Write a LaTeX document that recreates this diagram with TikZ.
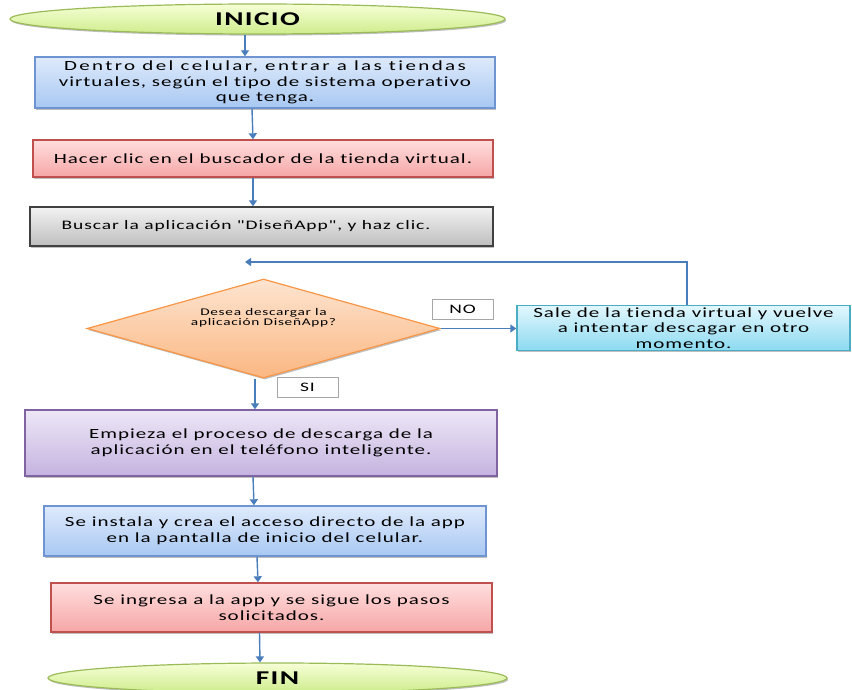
\documentclass[tikz,border=0pt]{standalone}
\usepackage{fontspec}
\setmainfont{Carlito}[FakeStretch=1.5, LetterSpace=7, Ligatures={TeXOff,CommonOff}]
\usetikzlibrary{arrows.meta,shapes.geometric,shadows}
\definecolor{flujoazul}{RGB}{74,126,187}
\definecolor{bordeAzul}{RGB}{110,149,209}
\definecolor{bordeRojo}{RGB}{192,80,77}
\definecolor{bordeGris}{RGB}{64,64,64}
\definecolor{bordeNaranja}{RGB}{247,150,70}
\definecolor{bordeCian}{RGB}{75,172,198}
\definecolor{bordeMorado}{RGB}{128,100,162}
\definecolor{bordeVerde}{RGB}{155,187,89}
\definecolor{azulArriba}{RGB}{222,234,251}   \definecolor{azulAbajo}{RGB}{168,200,242}
\definecolor{rojoArriba}{RGB}{255,222,222}   \definecolor{rojoAbajo}{RGB}{246,166,166}
\definecolor{grisArriba}{RGB}{242,242,242}   \definecolor{grisAbajo}{RGB}{190,190,190}
\definecolor{moradoArriba}{RGB}{237,231,246} \definecolor{moradoAbajo}{RGB}{197,179,224}
\definecolor{cianArriba}{RGB}{226,247,253}   \definecolor{cianAbajo}{RGB}{140,218,240}
\definecolor{naranjaArriba}{RGB}{253,228,208}\definecolor{naranjaAbajo}{RGB}{251,183,130}
\definecolor{verdeArriba}{RGB}{246,255,214}  \definecolor{verdeAbajo}{RGB}{206,236,140}
\tikzset{
  fsombra/.style={drop shadow={shadow xshift=1.2pt, shadow yshift=-1.6pt,
                               fill=black, opacity=0.25}},
  fpaso/.style={rectangle, line width=1.4pt, inner sep=2pt, align=center,
                font=\fontsize{14}{15.5}\selectfont, fsombra},
  fazul/.style   ={fpaso, draw=bordeAzul,   top color=azulArriba,   bottom color=azulAbajo},
  frojo/.style   ={fpaso, draw=bordeRojo,   top color=rojoArriba,   bottom color=rojoAbajo},
  fgris/.style   ={fpaso, draw=bordeGris,   top color=grisArriba,   bottom color=grisAbajo},
  fmorado/.style ={fpaso, draw=bordeMorado, top color=moradoArriba, bottom color=moradoAbajo},
  fcian/.style   ={fpaso, draw=bordeCian,   top color=cianArriba,   bottom color=cianAbajo},
  fdecide/.style ={diamond, draw=bordeNaranja, line width=1.2pt, inner sep=0pt,
                   top color=naranjaArriba, bottom color=naranjaAbajo, fsombra},
  fpregunta/.style={align=center, font=\fontsize{10.2}{10}\selectfont, yshift=11pt},
  fterm/.style   ={ellipse, draw=bordeVerde, line width=1.2pt, inner sep=0pt,
                   top color=verdeArriba, bottom color=verdeAbajo,
                   font=\fontsize{19.5}{20}\selectfont\bfseries, fsombra},
  fetiq/.style   ={rectangle, draw=black!35, fill=white, line width=0.8pt,
                   font=\fontsize{13}{13}\selectfont, minimum width=61pt, minimum height=20pt},
  fline/.style   ={-{Triangle[length=6pt,width=8pt]}, line width=1.4pt, flujoazul},
}
\begin{document}
\begin{tikzpicture}[x=1pt, y=-1pt]
  \useasboundingbox (0,0) rectangle (852,690);
  % inicio y pasos
  \node[fterm, minimum width=495pt, minimum height=30pt] (inicio) at (257.5,19) {INICIO};
  \node[fazul, minimum width=460pt, minimum height=51pt] (entrar) at (265,82.5)
    {{\addfontfeature{LetterSpace=17}Dentro del celular, entrar a las tiendas}\\ virtuales, según el tipo de sistema operativo\\ que tenga.};
  \node[frojo, minimum width=460pt, minimum height=37pt] (buscador) at (263,158.5)
    {Hacer clic en el buscador de la tienda virtual.};
  \node[fgris, minimum width=463pt, minimum height=39pt, font=\fontsize{13}{15}\selectfont] (buscar) at (261.5,226.5)
    {Buscar la aplicación "DiseñApp", y haz clic.\kern31pt};
  % decision
  \node[fdecide, minimum width=353pt, minimum height=99pt, aspect=3.5,
        label={[fpregunta]center:Desea descargar la\\ aplicación DiseñApp?}] (desea) at (263.5,328.5) {};
  \node[fcian, minimum width=333pt, minimum height=40pt] (sale) at (683.5,328)
    {Sale de la tienda virtual y vuelve\\ a intentar descagar en otro\\ momento.};
  \node[fetiq] (no) at (462.5,309) {NO};
  \node[fetiq] (si) at (307.5,387.5) {SI};
  \coordinate (regreso) at (245,262);
  % descarga
  \node[fmorado, minimum width=472pt, minimum height=66pt] (empieza) at (261,443)
    {Empieza el proceso de descarga de la\\ aplicación en el teléfono inteligente.};
  \node[fazul, minimum width=442pt, minimum height=50pt] (instala) at (265,531)
    {Se instala y crea el acceso directo de la app\\ en la pantalla de inicio del celular.};
  \node[frojo, minimum width=441pt, minimum height=49pt] (ingresa) at (271.5,607.5)
    {Se ingresa a la app y se sigue los pasos\\ solicitados.};
  \node[fterm, minimum width=459pt, minimum height=30pt] (fin) at (277.5,678) {FIN};
  % conectores
  \draw[fline] ([xshift=-12.5pt]inicio.south) -- ([xshift=-20pt]entrar.north);
  \draw[fline] ([xshift=-13pt]entrar.south) -- ([xshift=-10pt]buscador.north);
  \draw[fline] ([xshift=-10pt]buscador.south) -- ([xshift=-8.5pt]buscar.north);
  \draw[fline] (desea.east) -- (sale.west |- desea.east);
  \draw[fline] ([xshift=3.5pt]sale.north) |- (regreso);
  \draw[fline] ([xshift=-8.5pt]desea.south) -- ([xshift=-6pt]empieza.north);
  \draw[fline] ([xshift=-8pt]empieza.south) -- ([xshift=-11pt]instala.north);
  \draw[fline] ([xshift=-8pt]instala.south) -- ([xshift=-13.5pt]ingresa.north);
  \draw[fline] ([xshift=-12pt]ingresa.south) -- ([xshift=-17.5pt]fin.north);
\end{tikzpicture}
\end{document}
